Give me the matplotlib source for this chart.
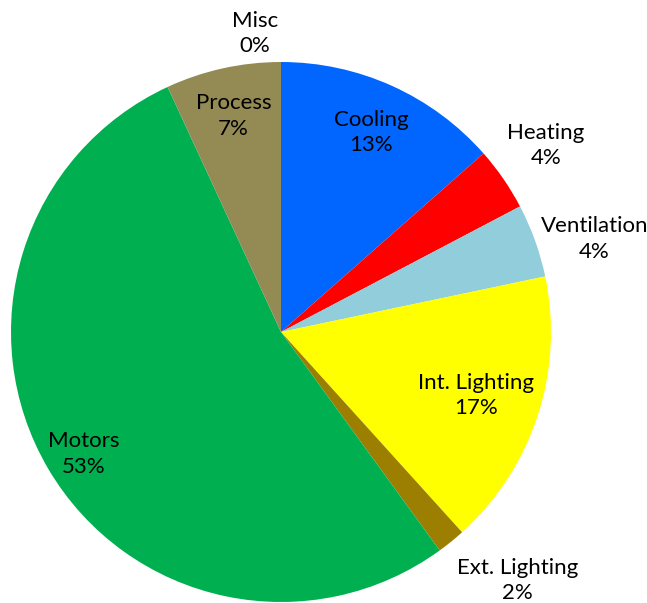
import numpy as np
import matplotlib
matplotlib.use('Agg')
import matplotlib.pyplot as plt

# dados (percentual de consumo por uso final)
categories = ['Cooling', 'Heating', 'Ventilation', 'Int. Lighting',
              'Ext. Lighting', 'Motors', 'Process', 'Misc']
shares = [13.5, 3.8, 4.4, 16.6, 1.7, 53.1, 6.9, 0.0]
pct_labels = ['13%', '4%', '4%', '17%', '2%', '53%', '7%', '0%']

colors = ['#0066FF', '#FF0000', '#92CDDC', '#FFFF00',
          '#9C7F00', '#00B050', '#948A54', '#7F7F7F']

# distancia do rotulo (fracao do raio) e deslocamento angular (anti-horario)
label_r = [0.81, 1.20, 1.21, 0.76, 1.27, 0.86, 0.82, 1.11]
label_dang = [0, 0.6, -3.3, 0, 4.5, 1.2, 0, 5]

plt.rcParams['font.family'] = ['Lato', 'DejaVu Sans']

fig = plt.figure(figsize=(6.47, 6.03), dpi=100)
ax = fig.add_axes([0, 0, 1, 1])
ax.axis('off')

wedges, _ = ax.pie(shares, colors=colors, startangle=90, counterclock=False,
                   radius=1.0, wedgeprops=dict(linewidth=0))

# posiciona os rotulos manualmente (estilo Excel)
for w, name, pct, r, da in zip(wedges, categories, pct_labels, label_r, label_dang):
    mid = (w.theta1 + w.theta2) / 2 + da
    ang = np.deg2rad(mid)
    x, y = r * np.cos(ang), r * np.sin(ang)
    ax.text(x, y, f'{name}\n{pct}', ha='center', va='center',
            fontsize=16, color='black', linespacing=1.35)

ax.set_xlim(-281 / 270, (647 - 281) / 270)
ax.set_ylim(-(603 - 332) / 270, 332 / 270)
ax.set_aspect('auto')

fig.savefig('out.png', dpi=100)
